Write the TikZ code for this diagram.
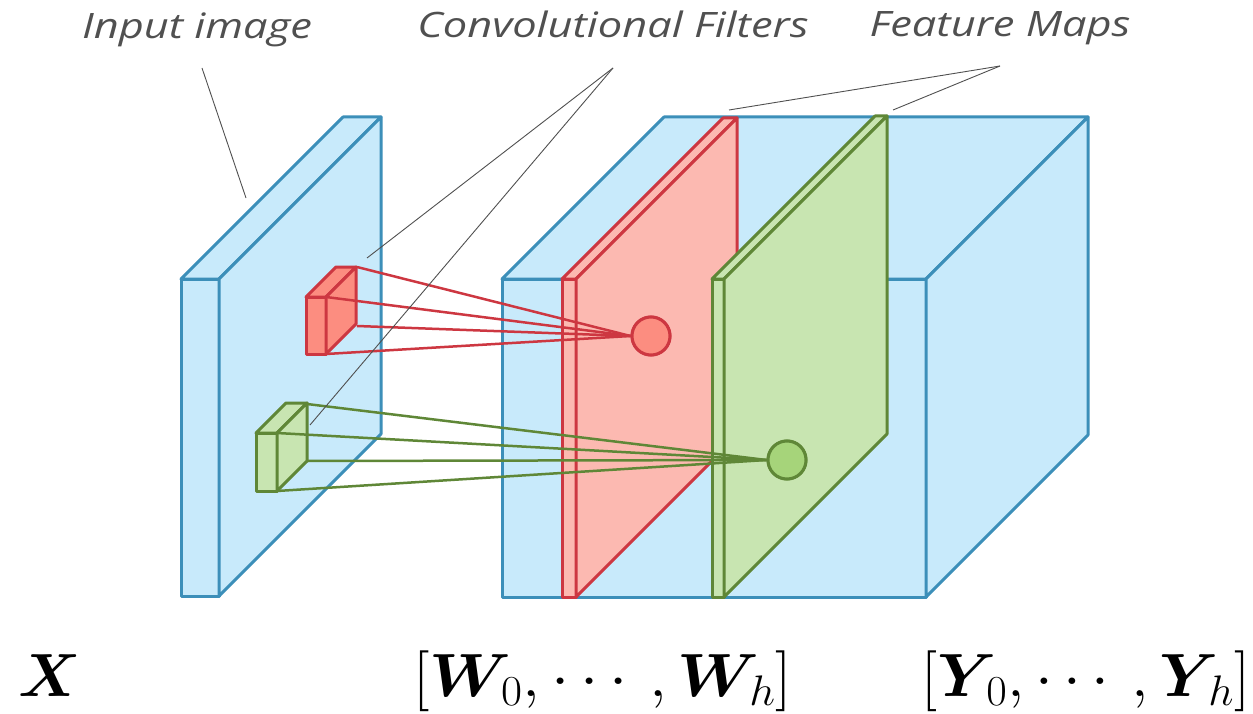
\RequirePackage{fix-cm}
\documentclass[tikz,border=0pt]{standalone}
\usepackage{amsmath}
\usepackage{graphicx}
\usepackage{fontspec}
\newfontfamily\lblfont{Open Sans}
\definecolor{bfill}{RGB}{200,234,251}
\definecolor{bline}{RGB}{60,143,185}
\definecolor{rfill}{RGB}{252,185,177}
\definecolor{rdark}{RGB}{252,141,128}
\definecolor{rline}{RGB}{205,55,65}
\definecolor{gfill}{RGB}{200,229,177}
\definecolor{gdark}{RGB}{166,212,122}
\definecolor{gline}{RGB}{95,135,55}
\definecolor{leadc}{RGB}{80,80,80}
\newcommand\prism[6]{%
 \filldraw[#1] (#2,#4) rectangle (#3,#5);
 \filldraw[#1] (#2,#4) -- (#2+#6,#4-#6) -- (#3+#6,#4-#6) -- (#3,#4) -- cycle;
 \filldraw[#1] (#3,#4) -- (#3+#6,#4-#6) -- (#3+#6,#5-#6) -- (#3,#5) -- cycle;}
\newcommand\wide[1]{\scalebox{1.24}[1]{#1}}
\tikzset{
 slab/.style={fill=bfill,draw=bline,line width=3pt,line join=round},
 redmap/.style={fill=rfill,draw=rline,line width=3pt,line join=round},
 redcube/.style={fill=rdark,draw=rline,line width=3pt,line join=round},
 greenmap/.style={fill=gfill,draw=gline,line width=3pt,line join=round},
 greencube/.style={fill=gfill,draw=gline,line width=3pt,line join=round},
 rray/.style={draw=rline,line width=2.5pt},
 gray/.style={draw=gline,line width=2.5pt},
 rdot/.style={circle,minimum size=38pt,inner sep=0,fill=rdark,draw=rline,line width=3pt},
 gdot/.style={circle,minimum size=38pt,inner sep=0,fill=gdark,draw=gline,line width=3pt},
 leader/.style={draw=leadc,line width=0.9pt},
 lbl/.style={inner sep=0,anchor=base,text=leadc,font=\lblfont\itshape\fontsize{35}{36}\selectfont},
 mathlbl/.style={inner sep=0,anchor=base west,font=\fontsize{61}{62}\selectfont},
}
\begin{document}
\begin{tikzpicture}[x=1pt,y=-1pt]
\useasboundingbox (0,0) rectangle (1253,714);
% input image
\prism{slab}{181}{219}{279}{596}{162}
% filters
\prism{redcube}{306}{326}{297}{354}{30}
\prism{greencube}{256}{277}{433}{491}{30}
\coordinate (r1) at (357,267);
\coordinate (r2) at (326,297);
\coordinate (r3) at (357,326);
\coordinate (r4) at (326,354);
\coordinate (g1) at (307,404);
\coordinate (g2) at (277,433);
\coordinate (g3) at (307,461);
\coordinate (g4) at (277,491);
% output block
\prism{slab}{502}{926}{279}{597}{162}
% red feature map
\prism{redmap}{562}{576}{279}{597}{161}
\node[rdot] (rc) at (651,336) {};
\foreach \p in {r1,r2,r3,r4} \draw[rray] (\p) -- (rc.west);
\node[rdot] at (rc) {};
% green feature map
\prism{greenmap}{712}{724}{279}{597}{163}
\node[gdot] (gc) at (787,460) {};
\foreach \p in {g1,g2,g3,g4} \draw[gray] (\p) -- (gc.west);
\node[gdot] at (gc) {};
% labels
\node[lbl] (lin) at (197,39) {\wide{Input image}};
\node[lbl] (lconv) at (613,38) {\wide{Convolutional Filters}};
\node[lbl] (lfeat) at (1000,37) {\wide{Feature Maps}};
\coordinate (inA) at (202,68);
\coordinate (inB) at (246,198);
\coordinate (cvA) at (613,68);
\coordinate (cvB) at (367,258);
\coordinate (cvC) at (310,425);
\coordinate (fmA) at (1000,66);
\coordinate (fmB) at (729,110);
\coordinate (fmC) at (893,110);
\draw[leader] (inA) -- (inB);
\draw[leader] (cvA) -- (cvB);
\draw[leader] (cvA) -- (cvC);
\draw[leader] (fmA) -- (fmB);
\draw[leader] (fmA) -- (fmC);
% math labels
\node[mathlbl] (mx) at (18,696) {$\boldsymbol{X}$};
\node[mathlbl] (mw) at (413,696) {\scalebox{1.07}[1]{$[\boldsymbol{W}_{\mkern-4mu 0},\cdots,\boldsymbol{W}_{\mkern-4mu h}]$}};
\node[mathlbl] (my) at (921,696) {\scalebox{1.045}[1]{$[\boldsymbol{Y}_{\mkern-4mu 0},\cdots,\boldsymbol{Y}_{\mkern-4mu h}]$}};
\end{tikzpicture}
\end{document}
